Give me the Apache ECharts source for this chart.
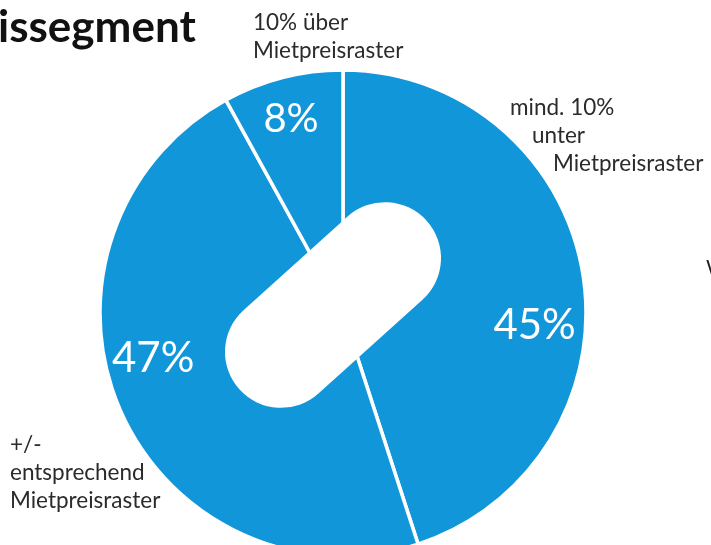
<!DOCTYPE html>
<html>
<head>
<meta charset="utf-8">
<script src="https://cdn.jsdelivr.net/npm/echarts@6/dist/echarts.min.js"></script>
<style>
html,body{margin:0;padding:0;background:#fff;}
#chart{width:711px;height:545px;}
</style>
</head>
<body>
<div id="chart"></div>
<script>
// ---- data ----
var categories = ['mind. 10%\nunter\nMietpreisraster', '+/-\nentsprechend\nMietpreisraster', '10% über\nMietpreisraster'];
var values = [45, 47, 8];
var valueLabels = ['45%', '47%', '8%'];
var titleText = 'issegment';

// ---- layout (not data) ----
var nameLabelPos = [[510, 94], [10, 431], [253, 9]];
var pctOffset = [[-3, 43], [-9, -33], [-3, -3]];
var pctFontSize = [42, 42, 40];

var chart = echarts.init(document.getElementById('chart'), null, {renderer: 'canvas'});

var mainData = categories.map(function (c, i) { return {name: c, value: values[i]}; });
var pctData = categories.map(function (c, i) {
  return {name: c, value: values[i], label: {fontSize: pctFontSize[i]}};
});

var FS = 22.5;
var option = {
  backgroundColor: '#ffffff',
  animation: false,
  graphic: [
    {
      type: 'rect',
      z: 100,
      x: 333, y: 305,
      rotation: 42 * Math.PI / 180,
      shape: {x: -126, y: -56, width: 252, height: 112, r: 56},
      style: {fill: '#ffffff'}
    },
    {
      type: 'text',
      z: 100,
      x: -2, y: 6,
      style: {text: titleText, fontFamily: 'Lato', fontWeight: 'bold', fontSize: 44, fill: '#111111'}
    },
    {
      type: 'text',
      z: 100,
      x: 706, y: 258,
      style: {text: 'W', fontFamily: 'Lato', fontSize: 20, fill: '#222222'}
    }
  ],
  series: [
    {
      type: 'pie',
      center: [343, 313],
      radius: [0, 243],
      startAngle: 90,
      clockwise: true,
      silent: true,
      itemStyle: {color: '#1196DA', borderColor: '#ffffff', borderWidth: 3.5},
      labelLine: {show: false},
      label: {
        show: true,
        position: 'outside',
        overflow: 'none',
        color: '#2b2b2b',
        fontFamily: 'Lato',
        fontSize: FS,
        lineHeight: 28,
        formatter: function (p) {
          var lines = p.name.split('\n');
          if (p.dataIndex === 0) {
            return '{a|' + lines[0] + '}\n{b|' + lines[1] + '}\n{c|' + lines[2] + '}';
          }
          return lines.map(function (l) { return '{a|' + l + '}'; }).join('\n');
        },
        rich: {
          a: {fontFamily: 'Lato', fontSize: FS, lineHeight: 28, color: '#2b2b2b'},
          b: {fontFamily: 'Lato', fontSize: FS, lineHeight: 28, color: '#2b2b2b', padding: [0, 0, 0, 22]},
          c: {fontFamily: 'Lato', fontSize: FS, lineHeight: 28, color: '#2b2b2b', padding: [0, 0, 0, 43]}
        }
      },
      labelLayout: function (params) {
        var p = nameLabelPos[params.dataIndex];
        return {x: p[0], y: p[1], align: 'left', verticalAlign: 'top', width: 240};
      },
      data: mainData
    },
    {
      type: 'pie',
      center: [343, 313],
      radius: [145, 243],
      startAngle: 90,
      clockwise: true,
      silent: true,
      itemStyle: {color: 'rgba(0,0,0,0)', borderWidth: 0},
      labelLine: {show: false},
      label: {
        show: true,
        position: 'inside',
        color: '#ffffff',
        fontFamily: 'Lato',
        fontSize: 42,
        formatter: function (p) { return valueLabels[p.dataIndex]; }
      },
      labelLayout: function (params) {
        var o = pctOffset[params.dataIndex];
        return {dx: o[0], dy: o[1]};
      },
      data: pctData
    }
  ]
};
chart.setOption(option);
</script>
</body>
</html>
